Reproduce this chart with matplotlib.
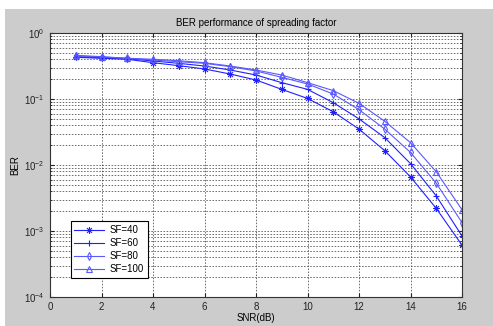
import numpy as np
import matplotlib.pyplot as plt
from matplotlib.patches import Rectangle
from matplotlib.path import Path
from matplotlib.ticker import LogLocator, NullFormatter

plt.rcParams['font.family'] = ['Liberation Sans', 'DejaVu Sans']
plt.rcParams['mathtext.fontset'] = 'custom'
plt.rcParams['mathtext.rm'] = 'Liberation Sans'

# data
snr = [1, 2, 3, 4, 5, 6, 7, 8, 9, 10, 11, 12, 13, 14, 15, 16]
ber_sf40 = [0.428, 0.414, 0.400, 0.355, 0.320, 0.285, 0.239, 0.194,
            0.140, 0.102, 0.064, 0.035, 0.0165, 0.0066, 0.0022, 0.00061]
ber_sf60 = [0.438, 0.422, 0.408, 0.377, 0.347, 0.316, 0.275, 0.231,
            0.177, 0.140, 0.088, 0.050, 0.026, 0.0105, 0.0034, 0.00084]
ber_sf80 = [0.448, 0.433, 0.414, 0.390, 0.367, 0.347, 0.309, 0.266,
            0.213, 0.169, 0.119, 0.069, 0.035, 0.0155, 0.0053, 0.00134]
ber_sf100 = [0.459, 0.438, 0.414, 0.400, 0.380, 0.355, 0.316, 0.275,
             0.231, 0.177, 0.134, 0.086, 0.046, 0.0218, 0.0079, 0.0021]

# matlab style asterisk: + and x drawn together
d = 0.7071
asterisk = Path([(0, -1), (0, 1), (-1, 0), (1, 0), (-d, -d), (d, d), (-d, d), (d, -d)],
                [Path.MOVETO, Path.LINETO] * 4)

fig = plt.figure(figsize=(4.93, 3.26), dpi=100)
fig.patch.set_facecolor('white')
# grey figure background, leaves a thin white strip top/left
fig.patches.append(Rectangle((5/493, 0), 1, 1 - 9/326, transform=fig.transFigure,
                             facecolor='#cccccc', edgecolor='none', zorder=-10))

ax = fig.add_axes([50/493, 29/326, 412/493, 264/326])
ax.set_facecolor('white')

blue = '#2020ff'
light = '#5a5aff'
ax.semilogy(snr, ber_sf40, '-', marker=asterisk, color=blue, lw=0.8, ms=5, mew=0.8,
            label='SF=40')
ax.semilogy(snr, ber_sf60, '-+', color=blue, lw=0.8, ms=5, mew=0.8, label='SF=60')
ax.semilogy(snr, ber_sf80, '-d', color=light, lw=0.8, ms=4, mew=0.8,
            mfc='none', label='SF=80')
ax.semilogy(snr, ber_sf100, '-^', color=light, lw=0.8, ms=4.5, mew=0.8,
            mfc='none', label='SF=100')

ax.set_xlim(0, 16)
ax.set_ylim(1e-4, 1)
ax.set_xticks(range(0, 17, 2))
ax.yaxis.set_major_locator(LogLocator(base=10, numticks=10))
ax.yaxis.set_minor_locator(LogLocator(base=10, subs=np.arange(2, 10), numticks=20))
ax.yaxis.set_minor_formatter(NullFormatter())

ax.grid(True, which='major', color='#444444', ls=(0, (2, 2)), lw=0.55)
ax.grid(True, which='minor', axis='y', color='#444444', ls=(0, (2, 2)), lw=0.55)
ax.tick_params(which='both', direction='in', labelsize=7, colors='#222222',
               top=True, right=True)
ax.tick_params(which='major', length=3)
ax.tick_params(axis='y', which='major', pad=4)
ax.tick_params(which='minor', length=1.5)
for s in ax.spines.values():
    s.set_color('#333333')
    s.set_linewidth(0.8)

ax.set_title('BER performance of spreading factor', fontsize=7, pad=5)
ax.set_xlabel('SNR(dB)', fontsize=7, labelpad=1)
ax.set_ylabel('BER', fontsize=7)
ax.yaxis.set_label_coords(-0.072, 0.5)

leg = ax.legend(loc='lower left', bbox_to_anchor=(0.05, 0.072), borderaxespad=0,
                fontsize=7, fancybox=False, framealpha=1, edgecolor='black',
                handlelength=3.0, handletextpad=0.6, labelspacing=0.3, borderpad=0.4)
leg.get_frame().set_linewidth(0.8)

fig.savefig('out.png', dpi=100)
